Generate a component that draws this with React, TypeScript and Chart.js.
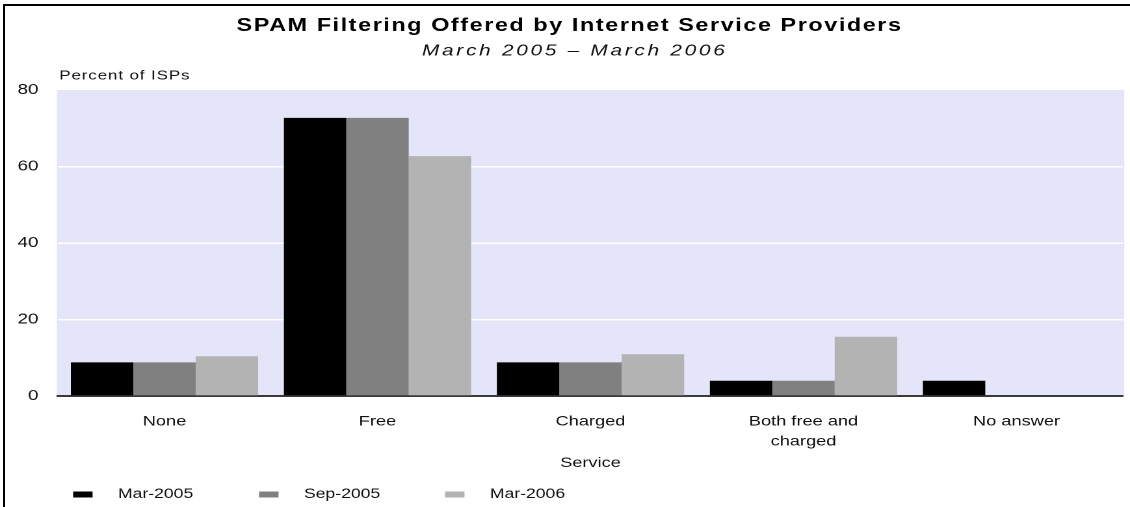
import React, { useEffect, useRef } from "react";
import { Chart, registerables } from "chart.js";

Chart.register(...registerables);

// ---- data ----
const categories: (string | string[])[] = ["None", "Free", "Charged", ["Both free and", "charged"], "No answer"];
const seriesNames = ["Mar-2005", "Sep-2005", "Mar-2006"];
const mar2005 = [8.8, 72.7, 8.8, 4.0, 4.0];
const sep2005 = [8.8, 72.7, 8.8, 4.0, 0];
const mar2006 = [10.4, 62.7, 10.9, 15.5, 0];
const yTicks = [0, 20, 40, 60, 80];

const TITLE = "SPAM Filtering Offered by Internet Service Providers";
const SUBTITLE = "March 2005 \u2013 March 2006";
const Y_CAPTION = "Percent of ISPs";
const X_TITLE = "Service";

const seriesValues = [mar2005, sep2005, mar2006];
const seriesColors = ["#000000", "#808080", "#b3b3b3"];

// ---- layout (logical canvas is stretched horizontally like the source) ----
const W = 869;
const H = 507;
const SX = 1130 / W;
const FONT = "'Liberation Sans', Arial, Helvetica, sans-serif";
const PLOT_BG = "#e5e5fa";

const bgPlugin = {
  id: "plotBg",
  beforeDraw(chart: any) {
    const { ctx, chartArea } = chart;
    ctx.save();
    ctx.fillStyle = PLOT_BG;
    ctx.fillRect(chartArea.left - 1, chartArea.top, chartArea.right - chartArea.left + 2, chartArea.bottom - chartArea.top);
    ctx.restore();
  },
};

const textPlugin = {
  id: "texts",
  afterDraw(chart: any) {
    const ctx = chart.ctx as any;
    const area = chart.chartArea;
    ctx.save();
    ctx.fillStyle = "#000";
    ctx.textAlign = "center";
    ctx.textBaseline = "middle";
    ctx.font = `bold 18px ${FONT}`;
    ctx.letterSpacing = "1.2px";
    ctx.fillText(TITLE, 438, 26);
    ctx.font = `italic 16px ${FONT}`;
    ctx.letterSpacing = "2.1px";
    ctx.fillStyle = "#111";
    ctx.fillText(SUBTITLE, 442, 51);
    ctx.textAlign = "left";
    ctx.font = `13px ${FONT}`;
    ctx.letterSpacing = "0.7px";
    ctx.fillText(Y_CAPTION, area.left + 1, 76);
    ctx.letterSpacing = "0px";
    ctx.font = `13.5px ${FONT}`;
    chart.data.datasets.forEach((ds: any, i: number) => {
      const bx = 56.2 + i * 143;
      ctx.fillStyle = ds.backgroundColor;
      ctx.fillRect(bx, 491.5, 15, 6);
      ctx.fillStyle = "#111";
      ctx.fillText(ds.label, bx + 34.6, 494.5);
    });
    ctx.restore();
  },
};

export default function App() {
  const ref = useRef<HTMLCanvasElement>(null);

  useEffect(() => {
    if (!ref.current) return;
    const chart = new Chart(ref.current, {
      type: "bar",
      data: {
        labels: categories as any,
        datasets: seriesNames.map((name, i) => ({
          label: name,
          data: seriesValues[i],
          backgroundColor: seriesColors[i],
          borderWidth: 0,
          categoryPercentage: 0.879,
          barPercentage: 1,
        })),
      },
      options: {
        animation: false,
        responsive: false,
        devicePixelRatio: 2,
        layout: { padding: { left: 0, right: 5.4, top: 90, bottom: 0 } },
        plugins: {
          legend: { display: false },
          title: { display: false },
          tooltip: { enabled: false },
        },
        scales: {
          x: {
            grid: { display: false, drawTicks: false },
            border: { display: true, color: "#3a3a3a", width: 2 },
            ticks: {
              font: { family: FONT, size: 14, lineHeight: 1.43 },
              color: "#111",
              padding: 15.5,
              maxRotation: 0,
              autoSkip: false,
            },
            title: {
              display: true,
              text: X_TITLE,
              font: { family: FONT, size: 14, lineHeight: 1.2 },
              color: "#111",
              padding: { top: 0, bottom: 35.6 },
            },
            afterFit: (s: any) => {
              s.height = H - 396;
            },
          },
          y: {
            min: 0,
            max: 80,
            afterBuildTicks: (s: any) => {
              s.ticks = yTicks.map((v) => ({ value: v }));
            },
            ticks: {
              font: { family: FONT, size: 14.5 },
              color: "#111",
              padding: 15,
            },
            grid: {
              color: (c: any) =>
                c.tick && c.tick.value > 0 && c.tick.value < 80 ? "rgba(255,255,255,0.95)" : "rgba(0,0,0,0)",
              lineWidth: 1.5,
              drawTicks: false,
            },
            border: { display: false },
            afterFit: (s: any) => {
              s.width = 44.6;
            },
          },
        },
      },
      plugins: [bgPlugin, textPlugin],
    });
    return () => chart.destroy();
  }, []);

  return (
    <div style={{ position: "fixed", left: 0, top: 0, width: 1130, height: 507, overflow: "hidden", background: "#fff" }}>
      <div
        style={{
          position: "absolute",
          left: 0,
          top: 0,
          width: W,
          height: H,
          transform: `scaleX(${SX})`,
          transformOrigin: "0 0",
        }}
      >
        <canvas ref={ref} width={W} height={H} />
      </div>
      <div
        style={{
          position: "absolute",
          left: 3,
          top: 4,
          width: 1127,
          height: 503,
          borderLeft: "2px solid #000",
          borderTop: "2px solid #000",
          boxSizing: "border-box",
          pointerEvents: "none",
        }}
      />
    </div>
  );
}
